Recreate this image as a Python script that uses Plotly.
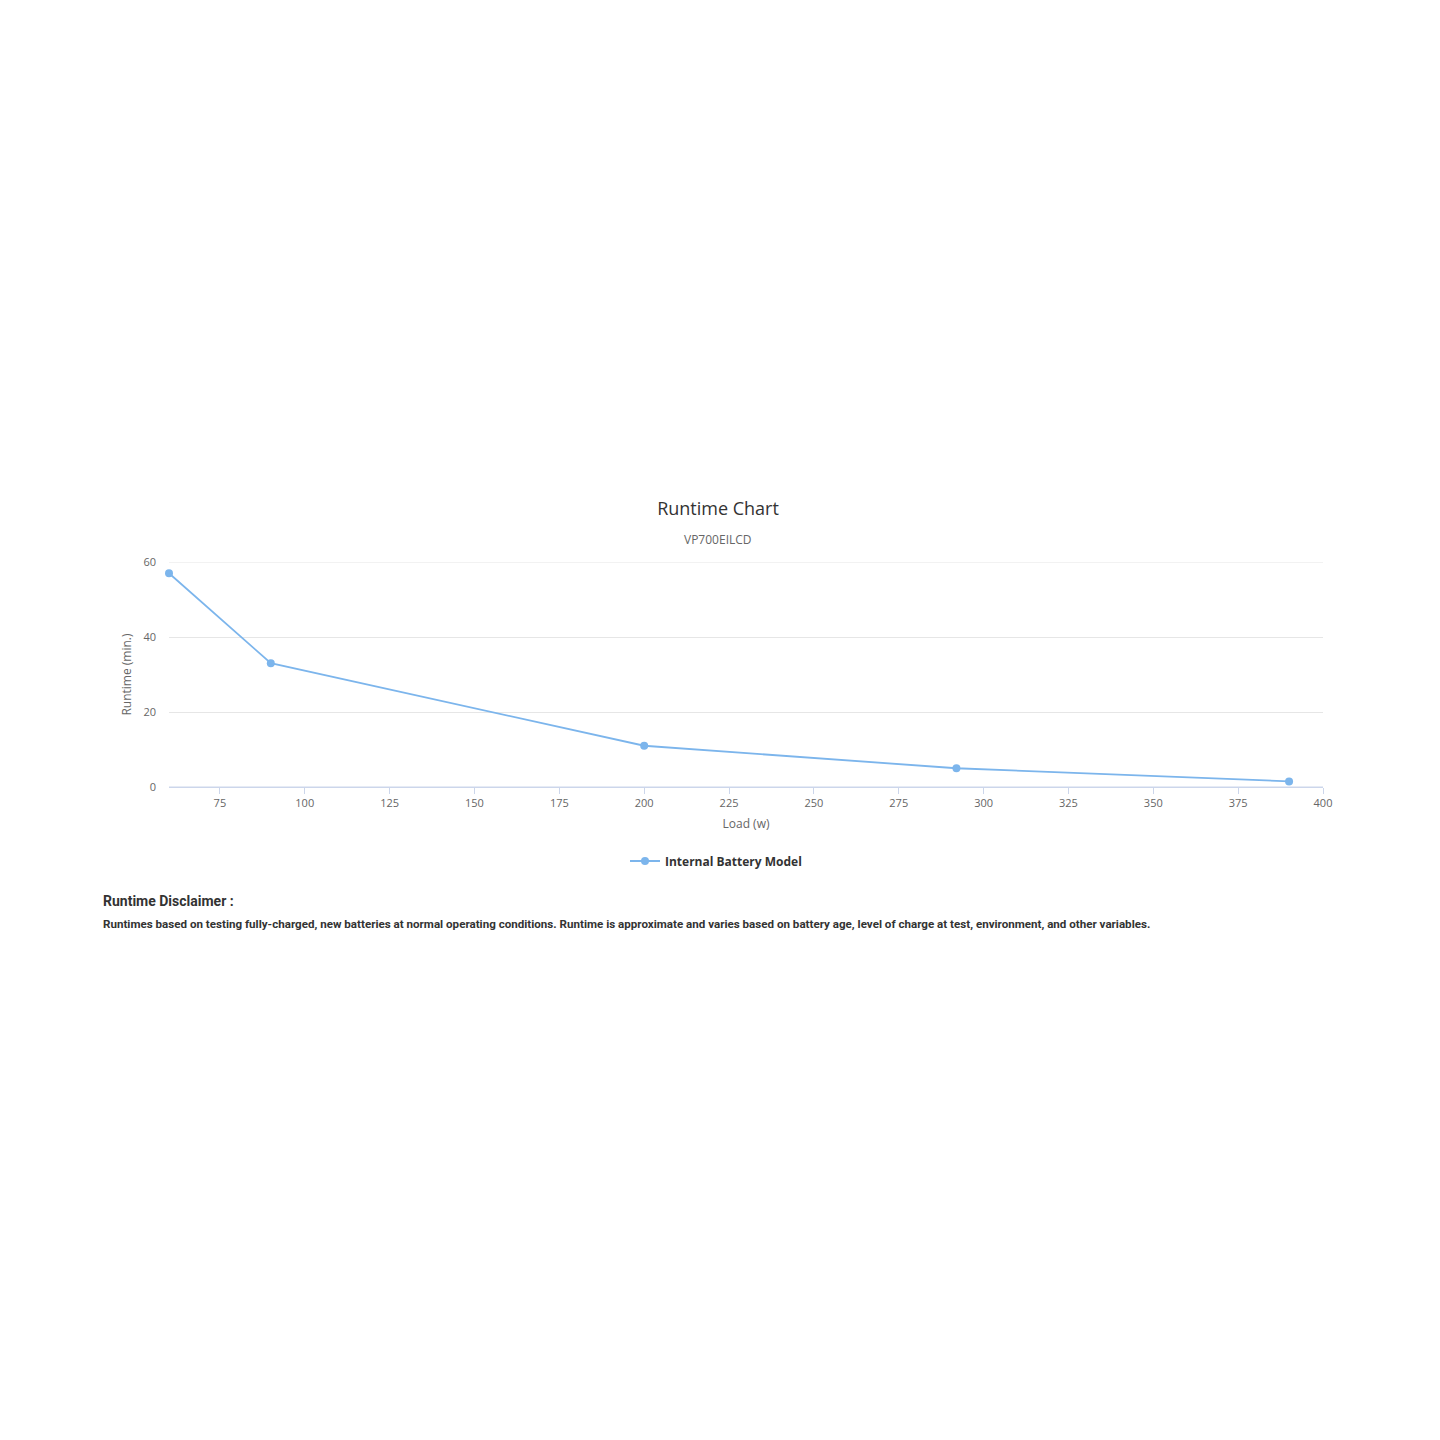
import plotly.graph_objects as go

# runtime data
load_w = [60, 90, 200, 292, 390]
runtime_min = [57, 33, 11, 5, 1.5]
series_name = "Internal Battery Model"
chart_title = "Runtime Chart"
chart_subtitle = "VP700EILCD"
disclaimer_head = "Runtime Disclaimer :"
disclaimer_text = ("Runtimes based on testing fully-charged, new batteries at normal operating conditions. "
                   "Runtime is approximate and varies based on battery age, level of charge at test, "
                   "environment, and other variables.")

W, H = 1440, 1440
OFF = 8                            # page body margin
L, R, T, B = 169, 1323, 562, 787   # plot area in page pixels


def px_x(x):
    return (x - L) / (R - L)


def px_y(y):
    return (B - y) / (B - T)


fig = go.Figure()
fig.add_trace(go.Scatter(
    x=load_w, y=runtime_min, name=series_name, mode="lines+markers",
    line=dict(color="#7cb5ec", width=1.8),
    marker=dict(color="#7cb5ec", size=8),
    cliponaxis=False,
))

fig.update_layout(
    width=W, height=H,
    margin=dict(l=L - OFF, r=W + OFF - R, t=T - OFF, b=H + OFF - B),
    paper_bgcolor="white", plot_bgcolor="white",
    font=dict(family="Open Sans, sans-serif", color="#666666", size=11),
    title=dict(text=chart_title, x=(718 - OFF) / W, xanchor="center",
               y=1 - (509 - OFF) / H, yanchor="middle",
               font=dict(size=18, color="#333333", family="Open Sans, sans-serif")),
    showlegend=True,
    legend=dict(orientation="h", x=px_x(716), xanchor="center", y=px_y(861), yanchor="middle",
                itemwidth=30,
                font=dict(size=12, color="#333333", family="Open Sans, sans-serif", weight="bold")),
    xaxis=dict(range=[60, 400], tick0=0, dtick=25, showgrid=False,
               showline=True, linecolor="#ccd6eb", linewidth=1,
               ticks="outside", tickcolor="#ccd6eb", ticklen=6,
               tickfont=dict(size=11, color="#666666"),
               title=dict(text="Load (w)", standoff=10, font=dict(size=12, color="#666666")),
               zeroline=False),
    yaxis=dict(range=[0, 60], dtick=20, showgrid=True, gridcolor="#e6e6e6",
               showline=False, zeroline=False, ticks="", ticklabelstandoff=12,
               tickfont=dict(size=11, color="#666666"),
               title=dict(text="Runtime (min.)", standoff=9, font=dict(size=12, color="#666666"))),
)

fig.add_hline(y=60, line_color="#e6e6e6", line_width=1, layer="below")
fig.add_hline(y=0, line_color="#ccd6eb", line_width=1)

fig.add_annotation(text=chart_subtitle, xref="paper", yref="paper",
                   x=px_x(718), y=px_y(539), xanchor="center", yanchor="middle",
                   showarrow=False, font=dict(size=12, color="#666666"))
fig.add_annotation(text="<b>" + disclaimer_head + "</b>", xref="paper", yref="paper",
                   x=px_x(101), y=px_y(901), xanchor="left", yanchor="middle",
                   showarrow=False, font=dict(size=14, color="#333333", family="Roboto, sans-serif"))
fig.add_annotation(text="<b>" + disclaimer_text + "</b>", xref="paper", yref="paper",
                   x=px_x(101), y=px_y(924), xanchor="left", yanchor="middle",
                   showarrow=False, font=dict(size=11.6, color="#333333", family="Roboto, sans-serif"))

fig.write_html("out.html")
